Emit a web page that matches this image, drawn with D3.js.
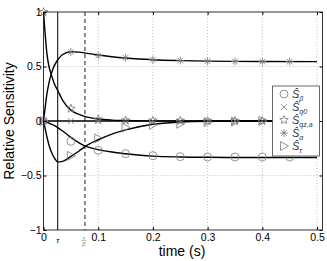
<!DOCTYPE html>
<html>
<head>
<meta charset="utf-8">
<script src="https://cdn.jsdelivr.net/npm/d3@7"></script>
<style>
  body { margin: 0; background: #fff; }
  svg text { font-family: "Liberation Sans", Arial, sans-serif; }
  .axis path { display: none; }
  .axis line { stroke: #000; }
  .grid { stroke: #b0b0b0; stroke-dasharray: 1,2; stroke-width: 0.8; }
</style>
</head>
<body>
<script>
// ---- data ----
var tau = 0.026, tauBeta = 0.0757;
var xTicks = [0, 0.1, 0.2, 0.3, 0.4, 0.5];
var yTicks = [-1, -0.5, 0, 0.5, 1];

// analytic curves (black lines)
var tLine    = [0, 0.003, 0.006, 0.01, 0.014, 0.02, 0.026, 0.035, 0.05, 0.065, 0.075, 0.1, 0.125, 0.15, 0.2, 0.25, 0.3, 0.4, 0.5];
var lineBeta  = [0, -0.005, -0.011, -0.019, -0.028, -0.042, -0.06, -0.092, -0.15, -0.2, -0.228, -0.262, -0.285, -0.3, -0.322, -0.33, -0.333, -0.335, -0.335];
var lineQ0    = [0, 0, 0, 0, 0, 0, 0, 0, 0, 0, 0, 0, 0, 0, 0, 0, 0, 0, 0];
var lineQza   = [1, 0.8, 0.63, 0.5, 0.43, 0.34, 0.28, 0.19, 0.1, 0.06, 0.042, 0.018, 0.008, 0.004, 0.001, 0, 0, 0, 0];
var lineAlpha = [0, 0.12, 0.24, 0.35, 0.43, 0.51, 0.56, 0.61, 0.635, 0.632, 0.625, 0.605, 0.59, 0.578, 0.562, 0.554, 0.549, 0.546, 0.545];
var lineTau   = [0, -0.07, -0.14, -0.22, -0.28, -0.34, -0.375, -0.37, -0.325, -0.275, -0.237, -0.172, -0.12, -0.082, -0.03, -0.01, -0.003, 0, 0];

// simulated samples (grey markers)
var tMark     = [0, 0.05, 0.1, 0.15, 0.2, 0.25, 0.3, 0.35, 0.4, 0.45];
var markBeta  = [0, -0.186, -0.269, -0.3, -0.318, -0.327, -0.33, -0.33, -0.33, -0.33];
var markQ0    = [0, 0, 0, 0, 0, 0, 0, 0, 0, 0];
var markQza   = [1, 0.114, 0.015, 0.005, 0.002, 0.001, 0, 0, 0, 0];
var markAlpha = [0, 0.633, 0.6, 0.58, 0.563, 0.554, 0.548, 0.546, 0.545, 0.545];
var markTau   = [0, -0.32, -0.16, -0.06, -0.035, -0.025, -0.01, -0.005, 0, 0];

var series = [
  {sub: "β",   marker: "circle",   line: lineBeta,  mark: markBeta},
  {sub: "q0",  marker: "cross",    line: lineQ0,    mark: markQ0},
  {sub: "qz,a",marker: "star",     line: lineQza,   mark: markQza},
  {sub: "α",   marker: "asterisk", line: lineAlpha, mark: markAlpha},
  {sub: "τ",   marker: "triangle", line: lineTau,   mark: markTau}
];

var W = 327, H = 261;
var svg = d3.select("body").append("svg").attr("width", W).attr("height", H);

var x = d3.scaleLinear().domain([0, 0.51]).range([43.5, 322.5]);
var y = d3.scaleLinear().domain([-1, 1]).range([230, 12]);

var x0 = x.range()[0], x1 = x.range()[1], yTop = y.range()[1], yBot = y.range()[0];

svg.append("defs").append("clipPath").attr("id", "clip")
  .append("rect").attr("x", x0).attr("y", yTop).attr("width", x1 - x0).attr("height", yBot - yTop);

// grid
svg.selectAll(".gx").data(xTicks.filter(function(d){return d > 0;})).enter().append("line")
  .attr("class", "grid")
  .attr("x1", function(d){return x(d);}).attr("x2", function(d){return x(d);})
  .attr("y1", yTop).attr("y2", yBot);
svg.selectAll(".gy").data(yTicks.filter(function(d){return d > -1 && d < 1;})).enter().append("line")
  .attr("class", "grid")
  .attr("x1", x0).attr("x2", x1)
  .attr("y1", function(d){return y(d);}).attr("y2", function(d){return y(d);});

// tau markers
svg.append("line").attr("x1", x(tau)).attr("x2", x(tau)).attr("y1", yTop).attr("y2", yBot)
  .attr("stroke", "#000").attr("stroke-width", 1);
svg.append("line").attr("x1", x(tauBeta)).attr("x2", x(tauBeta)).attr("y1", yTop).attr("y2", yBot)
  .attr("stroke", "#808080").attr("stroke-width", 1.8).attr("stroke-dasharray", "4,3");

// lines
var line = d3.line()
  .x(function(d, i){return x(tLine[i]);})
  .y(function(d){return y(d);})
  .curve(d3.curveMonotoneX);

var plot = svg.append("g").attr("clip-path", "url(#clip)");
series.forEach(function(s){
  plot.append("path").attr("d", line(s.line))
    .attr("fill", "none").attr("stroke", "#000").attr("stroke-width", 1.4);
});

// marker shapes
function drawMarker(g, type, cx, cy){
  var c = "#7a7a7a", sw = 0.8;
  if(type == "circle"){
    g.append("circle").attr("cx", cx).attr("cy", cy).attr("r", 4)
      .attr("fill", "none").attr("stroke", c).attr("stroke-width", sw);
  } else if(type == "cross"){
    g.append("path").attr("d", "M"+(cx-3)+","+(cy-3)+"L"+(cx+3)+","+(cy+3)+"M"+(cx-3)+","+(cy+3)+"L"+(cx+3)+","+(cy-3))
      .attr("stroke", c).attr("stroke-width", sw);
  } else if(type == "star"){
    var pts = [];
    for(var k = 0; k < 10; k++){
      var r = k % 2 == 0 ? 4.5 : 1.9, a = -Math.PI/2 + k*Math.PI/5;
      pts.push([cx + r*Math.cos(a), cy + r*Math.sin(a)]);
    }
    g.append("path").attr("d", "M" + pts.join("L") + "Z")
      .attr("fill", "none").attr("stroke", c).attr("stroke-width", sw);
  } else if(type == "asterisk"){
    var d = "";
    for(var k = 0; k < 4; k++){
      var a = k*Math.PI/4, r = 4;
      d += "M"+(cx-r*Math.cos(a))+","+(cy-r*Math.sin(a))+"L"+(cx+r*Math.cos(a))+","+(cy+r*Math.sin(a));
    }
    g.append("path").attr("d", d).attr("stroke", c).attr("stroke-width", sw);
  } else if(type == "triangle"){
    g.append("path").attr("d", "M"+(cx-3.5)+","+(cy-4.5)+"L"+(cx+4.5)+","+cy+"L"+(cx-3.5)+","+(cy+4.5)+"Z")
      .attr("fill", "none").attr("stroke", c).attr("stroke-width", sw);
  }
}

var marks = svg.append("g");
series.forEach(function(s){
  s.mark.forEach(function(v, i){
    drawMarker(marks, s.marker, x(tMark[i]), y(v));
  });
});

// frame
svg.append("rect").attr("x", x0).attr("y", yTop).attr("width", x1 - x0).attr("height", yBot - yTop)
  .attr("fill", "none").attr("stroke", "#000").attr("stroke-width", 0.8);

// axes (ticks pointing inward, like the original)
var xAxis = svg.append("g").attr("class", "axis").attr("transform", "translate(0," + yBot + ")")
  .call(d3.axisBottom(x).tickValues(xTicks).tickSize(-3).tickPadding(4)
    .tickFormat(function(d){return d == 0 ? "0" : d3.format(".1f")(d);}));
svg.append("g").attr("class", "axis").attr("transform", "translate(0," + yTop + ")")
  .call(d3.axisTop(x).tickValues(xTicks).tickSize(-3).tickFormat(""));
svg.append("g").attr("class", "axis").attr("transform", "translate(" + x0 + ",0)")
  .call(d3.axisLeft(y).tickValues(yTicks).tickSize(-3).tickPadding(2)
    .tickFormat(function(d){return d3.format("")(d);}));
svg.append("g").attr("class", "axis").attr("transform", "translate(" + x1 + ",0)")
  .call(d3.axisRight(y).tickValues(yTicks).tickSize(-3).tickFormat(""));
svg.selectAll(".axis text").attr("font-size", 10.5).attr("font-family", "Liberation Sans, Arial, sans-serif").attr("fill", "#000");

// tau labels on x axis
svg.append("text").attr("x", x(tau)).attr("y", yBot + 13).attr("text-anchor", "middle")
  .attr("font-family", "DejaVu Serif, serif").attr("font-style", "italic").attr("font-size", 8).text("τ");
var fr = svg.append("g").attr("fill", "#808080").attr("font-family", "DejaVu Serif, serif")
  .attr("font-style", "italic").attr("font-size", 6).attr("text-anchor", "middle");
fr.append("text").attr("x", x(tauBeta) - 1).attr("y", yBot + 9.5).text("τ");
fr.append("line").attr("x1", x(tauBeta) - 3.5).attr("x2", x(tauBeta) + 1.5).attr("y1", yBot + 10.5).attr("y2", yBot + 10.5)
  .attr("stroke", "#808080").attr("stroke-width", 0.5);
fr.append("text").attr("x", x(tauBeta) - 1).attr("y", yBot + 16).text("β");

// axis titles
svg.append("text").attr("x", 182).attr("y", 256).attr("text-anchor", "middle")
  .attr("font-size", 14).text("time (s)");
svg.append("text").attr("transform", "translate(14," + y(0) + ") rotate(-90)")
  .attr("text-anchor", "middle").attr("font-size", 14).text("Relative Sensitivity");

// legend
var lg = svg.append("g");
lg.append("rect").attr("x", 272.5).attr("y", 86).attr("width", 47).attr("height", 70)
  .attr("fill", "#fff").attr("stroke", "#444").attr("stroke-width", 0.8);
series.forEach(function(s, i){
  var ry = 94 + i*13;
  drawMarker(lg, s.marker, 284, ry);
  var t = lg.append("text").attr("x", 292).attr("y", ry + 4)
    .attr("font-family", "DejaVu Serif, serif").attr("font-style", "italic").attr("font-size", 11).attr("fill", "#333");
  t.append("tspan").text("Ŝ");
  t.append("tspan").attr("dy", 2.5).attr("font-size", 7).text(s.sub);
});
</script>
</body>
</html>
